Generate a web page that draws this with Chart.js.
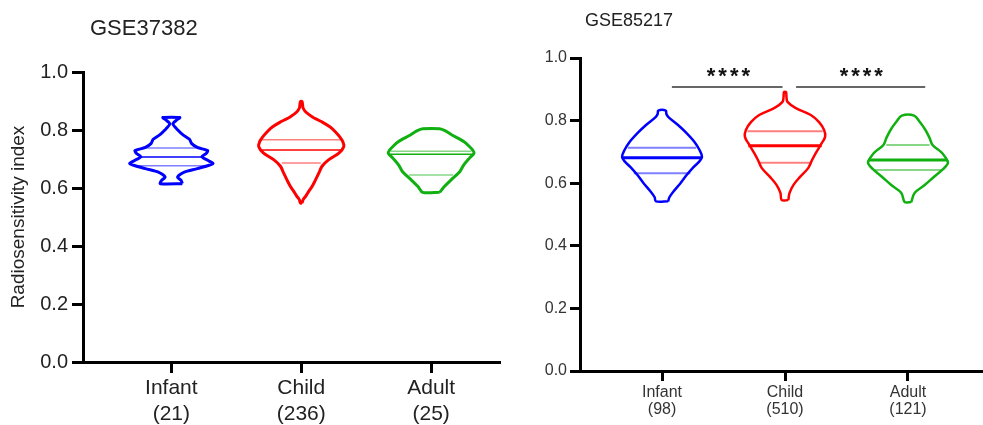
<!DOCTYPE html>
<html><head><meta charset="utf-8">
<script src="https://cdn.jsdelivr.net/npm/chart.js@4.4.1/dist/chart.umd.min.js"></script>
<style>
html,body{margin:0;padding:0;background:#fff;overflow:hidden;}
#wrapA{position:absolute;left:0;top:0;width:510px;height:425px;}
#wrapB{position:absolute;left:520px;top:0;width:463px;height:425px;}
</style></head><body>
<div id="wrapA"><canvas id="cA" width="510" height="425"></canvas></div>
<div id="wrapB"><canvas id="cB" width="463" height="425"></canvas></div>
<script>
// ---------- data ----------
const groups = ['Infant', 'Child', 'Adult'];
const countsA = [21, 236, 25];
const countsB = [98, 510, 121];
const yTicks = [0, 0.2, 0.4, 0.6, 0.8, 1.0];
const titleA = 'GSE37382';
const titleB = 'GSE85217';
const yTitle = 'Radiosensitivity index';
const colors = ['#0000FF', '#FF0000', '#10B010'];
const colorsLight = ['rgba(0,0,255,0.5)', 'rgba(255,0,0,0.5)', 'rgba(16,176,16,0.5)'];

// GSE37382 violin outlines (value level, half-width in category units)
const infantA_y = [0.615, 0.626, 0.638, 0.655, 0.667, 0.684, 0.698, 0.708, 0.72, 0.729, 0.74, 0.754, 0.768, 0.783, 0.80, 0.821, 0.834, 0.843];
const infantA_w = [0.085, 0.075, 0.048, 0.10, 0.20, 0.32, 0.27, 0.235, 0.27, 0.28, 0.20, 0.155, 0.14, 0.09, 0.05, 0.012, 0.04, 0.065];
const childA_y = [0.548, 0.56, 0.572, 0.59, 0.605, 0.628, 0.651, 0.675, 0.697, 0.72, 0.742, 0.76, 0.777, 0.795, 0.811, 0.83, 0.846, 0.862, 0.875, 0.888, 0.898];
const childA_w = [0.006, 0.015, 0.035, 0.06, 0.083, 0.11, 0.135, 0.16, 0.21, 0.29, 0.327, 0.32, 0.295, 0.26, 0.22, 0.15, 0.083, 0.035, 0.015, 0.01, 0.006];
const adultA_y = [0.585, 0.604, 0.628, 0.655, 0.679, 0.703, 0.72, 0.731, 0.745, 0.759, 0.783, 0.797, 0.804];
const adultA_w = [0.066, 0.10, 0.154, 0.218, 0.25, 0.295, 0.33, 0.32, 0.29, 0.256, 0.16, 0.11, 0.064];
// quartile lines [Q1, median, Q3] and their half-widths
const infantA_q = [0.677, 0.707, 0.738]; const infantA_qw = [0.27, 0.235, 0.21];
const childA_q = [0.686, 0.731, 0.766];  const childA_qw = [0.15, 0.31, 0.31];
const adultA_q = [0.645, 0.716, 0.727];  const adultA_qw = [0.17, 0.33, 0.31];

// GSE85217 violin outlines
const infantB_y = [0.542, 0.555, 0.572, 0.60, 0.626, 0.652, 0.668, 0.684, 0.706, 0.732, 0.76, 0.786, 0.812, 0.822, 0.832];
const infantB_w = [0.05, 0.06, 0.09, 0.15, 0.20, 0.258, 0.30, 0.325, 0.305, 0.264, 0.2, 0.13, 0.05, 0.035, 0.031];
const childB_y = [0.546, 0.569, 0.594, 0.62, 0.649, 0.674, 0.696, 0.722, 0.748, 0.77, 0.795, 0.818, 0.84, 0.86, 0.875, 0.891];
const childB_w = [0.027, 0.037, 0.068, 0.122, 0.19, 0.22, 0.25, 0.289, 0.326, 0.318, 0.277, 0.21, 0.088, 0.02, 0.012, 0.008];
const adultB_y = [0.54, 0.569, 0.594, 0.62, 0.645, 0.665, 0.685, 0.70, 0.722, 0.744, 0.77, 0.796, 0.816];
const adultB_w = [0.027, 0.054, 0.136, 0.21, 0.285, 0.325, 0.30, 0.268, 0.2, 0.176, 0.142, 0.095, 0.05];
const infantB_q = [0.632, 0.681, 0.713]; const infantB_qw = [0.23, 0.32, 0.278];
const childB_q = [0.665, 0.72, 0.766];   const childB_qw = [0.21, 0.298, 0.305];
const adultB_q = [0.642, 0.674, 0.722];  const adultB_qw = [0.27, 0.318, 0.176];

// significance annotations (GSE85217)
const sigBarsX = [[0.08, 0.98], [1.09, 2.14]];
const sigBarY = 0.907;
const sigText = ['****', '****'];
const sigTextX = [0.54, 1.62];
const sigTextY = 0.952;

// ---------- helpers ----------
function outline(center, ys, ws) {
  const pts = [];
  for (let i = 0; i < ys.length; i++) pts.push({x: center + ws[i], y: ys[i]});
  for (let i = ys.length - 1; i >= 0; i--) pts.push({x: center - ws[i], y: ys[i]});
  pts.push({x: center + ws[0], y: ys[0]});
  return pts;
}
function buildDatasets(profiles, quarts, outlineW, medW, qW, tension) {
  const ds = [];
  profiles.forEach((p, i) => {
    ds.push({data: outline(i, p[0], p[1]), borderColor: colors[i], borderWidth: outlineW, tension: tension[i], showLine: true, fill: false});
  });
  quarts.forEach((q, i) => {
    q[0].forEach((v, k) => {
      const med = (k === 1);
      ds.push({data: [{x: i - q[1][k], y: v}, {x: i + q[1][k], y: v}],
        borderColor: med ? colors[i] : colorsLight[i], borderWidth: med ? medW : qW, showLine: true, tension: 0});
    });
  });
  return ds;
}

const FONT = '"Liberation Sans", Arial, "Helvetica", sans-serif';

function makeOptions(o) {
  return {
    responsive: false, animation: false, devicePixelRatio: 1,
    layout: {padding: {top: o.top, right: o.right, left: 0, bottom: 0}},
    elements: {point: {radius: 0, hoverRadius: 0}},
    plugins: {legend: {display: false}, tooltip: {enabled: false}, title: {display: false}},
    scales: {
      x: {
        type: 'linear', min: o.xmin, max: o.xmax,
        afterBuildTicks: s => { s.ticks = groups.map((g, i) => ({value: i})); },
        afterFit: s => { s.height = o.xh; },
        ticks: {autoSkip: false, maxRotation: 0, padding: o.xpad, color: o.tickColor,
          font: {family: FONT, size: o.xfs, lineHeight: o.xlh},
          callback: v => [groups[v], '(' + o.counts[v] + ')']},
        grid: {display: true, drawOnChartArea: false, drawTicks: true, tickLength: o.tl, tickWidth: 3, tickColor: '#000'},
        border: {display: true, color: '#000', width: 3}
      },
      y: {
        type: 'linear', min: 0, max: 1,
        afterBuildTicks: s => { s.ticks = yTicks.map(v => ({value: v})); },
        afterFit: s => { s.width = o.yw; },
        ticks: {padding: o.ypad, color: o.tickColor, font: {family: FONT, size: o.yfs},
          callback: v => Number(v).toFixed(1)},
        grid: {display: true, drawOnChartArea: false, drawTicks: true, tickLength: o.tl, tickWidth: 3, tickColor: '#000'},
        border: {display: true, color: '#000', width: 3},
        title: o.ytitle ? {display: true, text: yTitle, color: '#222', font: {family: FONT, size: 19}, padding: {top: 7, bottom: 0}} : {display: false}
      }
    }
  };
}

function titlePlugin(text, x, y, size) {
  return {
    id: 'ttl',
    afterDraw(chart) {
      const ctx = chart.ctx;
      ctx.save();
      ctx.fillStyle = '#222';
      ctx.font = size + 'px ' + FONT;
      ctx.textAlign = 'left';
      ctx.textBaseline = 'middle';
      ctx.fillText(text, x, y);
      ctx.restore();
    }
  };
}

const sigPlugin = {
  id: 'sig',
  afterDraw(chart) {
    const ctx = chart.ctx, xs = chart.scales.x, ys = chart.scales.y;
    ctx.save();
    ctx.fillStyle = '#111';
    ctx.font = 'bold 22px ' + FONT;
    ctx.textAlign = 'center';
    ctx.textBaseline = 'middle';
    try { ctx.letterSpacing = '3px'; } catch (e) {}
    sigText.forEach((t, i) => {
      ctx.fillText(t, xs.getPixelForValue(sigTextX[i]) + 1.5, ys.getPixelForValue(sigTextY) + 4);
    });
    ctx.restore();
  }
};

// ---------- chart A ----------
const dsA = buildDatasets(
  [[infantA_y, infantA_w], [childA_y, childA_w], [adultA_y, adultA_w]],
  [[infantA_q, infantA_qw], [childA_q, childA_qw], [adultA_q, adultA_qw]],
  3, 1.5, 1.5, [0.25, 0.35, 0.3]);
new Chart(document.getElementById('cA'), {
  type: 'scatter',
  data: {datasets: dsA},
  options: makeOptions({top: 72, right: 10, xmin: -0.68, xmax: 2.53, xh: 63, yw: 83, xpad: 3, ypad: 4,
    xfs: 21, xlh: 1.2, yfs: 20, tl: 11, counts: countsA, tickColor: '#222', ytitle: true}),
  plugins: [titlePlugin(titleA, 90, 29, 22)]
});

// ---------- chart B ----------
const dsB = buildDatasets(
  [[infantB_y, infantB_w], [childB_y, childB_w], [adultB_y, adultB_w]],
  [[infantB_q, infantB_qw], [childB_q, childB_qw], [adultB_q, adultB_qw]],
  2.5, 3, 2, [0.35, 0.35, 0.35]);
sigBarsX.forEach(b => {
  dsB.push({data: [{x: b[0], y: sigBarY}, {x: b[1], y: sigBarY}], borderColor: '#333', borderWidth: 1.5, showLine: true, tension: 0});
});
new Chart(document.getElementById('cB'), {
  type: 'scatter',
  data: {datasets: dsB},
  options: makeOptions({top: 58, right: 0, xmin: -0.667, xmax: 2.61, xh: 54, yw: 60, xpad: 3, ypad: 3,
    xfs: 16, xlh: 1.08, yfs: 16, tl: 10, counts: countsB, tickColor: '#333', ytitle: false}),
  plugins: [titlePlugin(titleB, 65, 21, 18), sigPlugin]
});
</script>
</body></html>
